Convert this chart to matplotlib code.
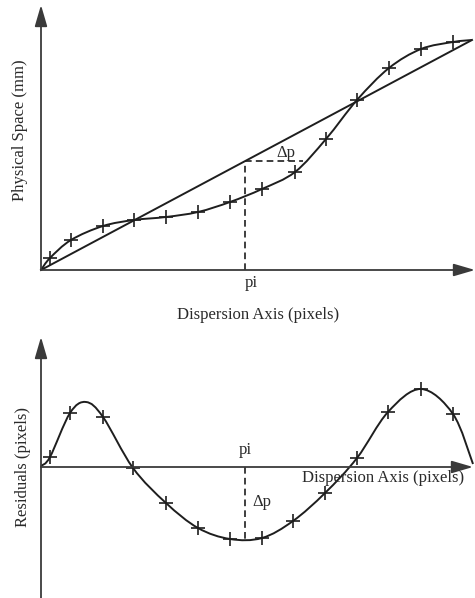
import numpy as np
import matplotlib
matplotlib.use("Agg")
import matplotlib.pyplot as plt
from matplotlib.path import Path
from matplotlib.patches import PathPatch

plt.rcParams['font.family'] = ['Liberation Serif', 'DejaVu Serif']

# calibration points (dispersion position vs physical position)
cal_x = [9, 30, 62, 93, 125, 157, 189, 221, 254, 285, 316, 348, 380, 412]
cal_y = [12, 30, 44, 50, 53, 58, 68, 81, 98, 131, 170, 202, 221, 228]
# smooth solution through the points, with its end points
sol_x = [0] + cal_x + [431]
sol_y = [0] + cal_y + [230]
# linear fit
fit_x = [0, 431]
fit_y = [0, 230]
pi_x = 204

# residuals of the same points
res_x = [9, 29, 62, 92, 125, 157, 189, 221, 252, 284, 316, 347, 380, 412]
res_y = [10, 54, 50, -1, -36, -61, -72, -71, -54, -26, 9, 55, 78, 53]
rcurve_x = [0, 9, 29, 45, 62, 92, 125, 157, 189, 221, 252, 284, 316, 347, 380, 412, 432]
rcurve_y = [1, 10, 54, 65, 50, -1, -36, -61, -72, -71, -54, -26, 9, 55, 78, 53, 3]

INK = '#1e1e1e'
AXC = '#3a3a3a'
TXT = '#2a2a2a'
FS = 12
W, H = 475, 598


def smooth_path(xs, ys):
    p = np.column_stack([xs, ys]).astype(float)
    ext = np.vstack([p[0], p, p[-1]])
    verts = [p[0]]
    codes = [Path.MOVETO]
    for i in range(1, len(ext) - 2):
        c1 = ext[i] + (ext[i + 1] - ext[i - 1]) / 6
        c2 = ext[i + 1] - (ext[i + 2] - ext[i]) / 6
        verts += [c1, c2, ext[i + 1]]
        codes += [Path.CURVE4] * 3
    return Path(verts, codes)


def axis_arrow(ax, start, end):
    ax.annotate('', xy=end, xytext=start, xycoords='data',
                arrowprops=dict(arrowstyle='-|>,head_length=1.3,head_width=0.38',
                                mutation_scale=10, color=AXC, lw=1.3,
                                shrinkA=0, shrinkB=0),
                annotation_clip=False)


fig = plt.figure(figsize=(4.75, 5.98), dpi=100)

# top panel: origin at pixel (41, 270)
ax1 = fig.add_axes([41 / W, (H - 270) / H, (W - 41) / W, 265 / H])
ax1.set_xlim(0, 434)
ax1.set_ylim(0, 265)
ax1.axis('off')
axis_arrow(ax1, (0, 0), (0, 265))
axis_arrow(ax1, (0, 0), (434, 0))
ax1.plot(fit_x, fit_y, color=INK, lw=1.4, clip_on=False)
ax1.add_patch(PathPatch(smooth_path(sol_x, sol_y), fill=False, ec=INK, lw=1.4, clip_on=False))
ax1.plot(cal_x, cal_y, ls='none', marker='+', ms=10, mew=1.2, color=INK, clip_on=False)
fit_at_pi = np.interp(pi_x, fit_x, fit_y)
ax1.plot([pi_x, pi_x], [0, fit_at_pi], ls=(0, (4, 2.5)), color=INK, lw=1.2)
ax1.plot([pi_x, 262], [fit_at_pi, fit_at_pi], ls=(0, (4, 2.5)), color=INK, lw=1.2)
ax1.text(245, 117, 'Δp', fontsize=FS, color=TXT, ha='center', va='center')
ax1.text(210, -13, 'pi', fontsize=FS, color=TXT, ha='center', va='center', clip_on=False)
fig.text(20 / W, 1 - 130 / H, 'Physical Space (mm)', rotation=90, fontsize=FS,
         color=TXT, ha='center', va='center')
fig.text(258 / W, 1 - 315 / H, 'Dispersion Axis (pixels)', fontsize=FS,
         color=TXT, ha='center', va='center')

# bottom panel: origin at pixel (41, 467)
ax2 = fig.add_axes([41 / W, 0, (W - 41) / W, (H - 337) / H])
ax2.set_xlim(0, 434)
ax2.set_ylim(-131, 130)
ax2.axis('off')
ax2.plot([0, 0], [-131, 0], color=AXC, lw=1.3, clip_on=False)
axis_arrow(ax2, (0, 0), (0, 130))
axis_arrow(ax2, (0, 0), (432, 0))
ax2.add_patch(PathPatch(smooth_path(rcurve_x, rcurve_y), fill=False, ec=INK, lw=1.4, clip_on=False))
ax2.plot(res_x, res_y, ls='none', marker='+', ms=10, mew=1.2, color=INK, clip_on=False)
ax2.plot([pi_x, pi_x], [0, -73], ls=(0, (4, 2.5)), color=INK, lw=1.2)
ax2.text(204, 17, 'pi', fontsize=FS, color=TXT, ha='center', va='center')
ax2.text(221, -35, 'Δp', fontsize=FS, color=TXT, ha='center', va='center')
ax2.text(342, -11, 'Dispersion Axis (pixels)', fontsize=FS, color=TXT,
         ha='center', va='center')
fig.text(23 / W, 1 - 467 / H, 'Residuals (pixels)', rotation=90, fontsize=FS,
         color=TXT, ha='center', va='center')

fig.savefig('out.png', dpi=100)
